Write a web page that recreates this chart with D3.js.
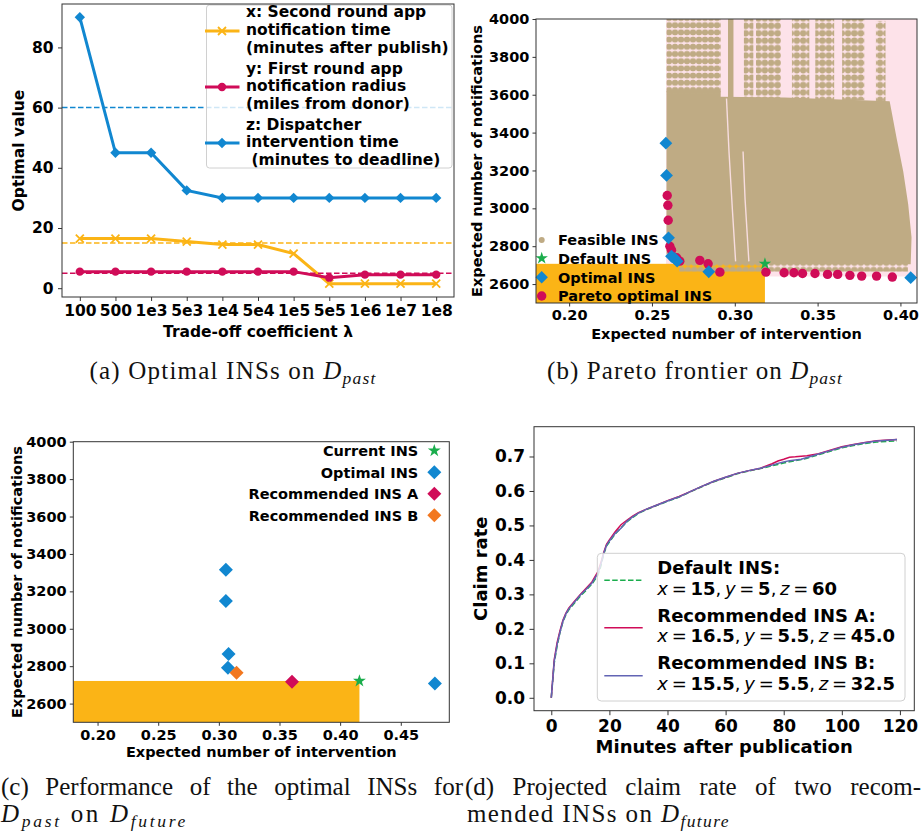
<!DOCTYPE html>
<html>
<head>
<meta charset="utf-8">
<script src="https://cdn.jsdelivr.net/npm/d3@7"></script>
<style>
  body { margin: 0; background: #fff; }
  svg { display: block; }
  text { white-space: pre; }
</style>
</head>
<body>
<div id="chart"></div>
<script>
// (a) optimal INS per trade-off coefficient
const lambdas = ['100', '500', '1e3', '5e3', '1e4', '5e4', '1e5', '5e5', '1e6', '1e7', '1e8'];
const optX = [16.5, 16.5, 16.5, 15.5, 14.5, 14.5, 11.5, 1.5, 1.5, 1.5, 1.5];
const optY = [5.5, 5.5, 5.5, 5.5, 5.5, 5.5, 5.5, 3.5, 4.5, 4.5, 4.5];
const optZ = [90, 45, 45, 32.5, 30, 30, 30, 30, 30, 30, 30];
const defaultXYZ = [15, 5, 60];
const legendA = [
    ['x: Second round app', 'notification time', '(minutes after publish)'],
    ['y: First round app', 'notification radius', '(miles from donor)'],
    ['z: Dispatcher', 'intervention time', ' (minutes to deadline)']
];

// (b) pareto frontier on D_past  [interventions, notifications]
const paretoPast = [[0.2592, 3068], [0.2596, 3016], [0.2598, 2937], [0.2608, 2800], [0.2618, 2779],
    [0.2649, 2739], [0.2668, 2721], [0.2789, 2725], [0.2839, 2707], [0.2910, 2663], [0.3188, 2663],
    [0.3298, 2660], [0.3357, 2660], [0.3409, 2656], [0.3484, 2656], [0.3560, 2651], [0.3621, 2651],
    [0.3695, 2646], [0.3766, 2642], [0.3856, 2642], [0.3951, 2637]];
const optimalPast = [[0.2584, 3344], [0.2588, 3174], [0.2600, 2844], [0.2618, 2747], [0.2638, 2734],
    [0.2652, 2721], [0.2843, 2665], [0.4062, 2634]];
const defaultPast = [0.3182, 2707];
const dominatedX = [0.2585, 0.41];
const dominatedY = [2640, 4000];
// feasible INS cloud, read as regions of the scatter
const feasibleCore = [[0.2588, 3620], [0.2915, 3620], [0.2915, 3590], [0.3300, 3585], [0.3935, 3565],
    [0.3977, 3370], [0.4017, 3195], [0.4047, 3020], [0.4067, 2846], [0.4062, 2705], [0.2665, 2705],
    [0.2620, 2725], [0.2588, 2760]];
const feasibleSolid = [[0.2959, 0.2992, 3575, 4000]];
const feasibleDense = [[0.2588, 0.2915, 3600, 4000]];
const feasibleSparse = [[0.3055, 0.3112, 3570, 4000], [0.3128, 0.3278, 3570, 4000], [0.3345, 0.3450, 3570, 4000],
    [0.3486, 0.3600, 3570, 4000], [0.3648, 0.3782, 3570, 4000], [0.3852, 0.3910, 3560, 3990],
    [0.2665, 0.4045, 2666, 2708]];
const feasibleGaps = [
    [[0.2950, 3580], [0.2965, 3300], [0.2985, 3000], [0.3005, 2720]],
    [[0.3050, 3300], [0.3062, 3050], [0.3085, 2720]]
];
const legendB = ['Feasible INS', 'Default INS', 'Optimal INS', 'Pareto optimal INS'];

// (c) optimal INSs for D_past evaluated on D_future
const optimalFuture = [[0.3058, 3316], [0.3058, 3149], [0.3080, 2865], [0.3075, 2792], [0.4781, 2707]];
const currentFuture = [0.4159, 2721];
const recAFuture = [0.3603, 2717];
const recBFuture = [0.3146, 2765];
const legendC = ['Current INS', 'Optimal INS', 'Recommended INS A', 'Recommended INS B'];

// (d) projected claim rate
const minutes = [0, 1, 2, 3, 4, 5, 6, 8, 10, 12, 14, 16, 17, 18, 19, 20, 22, 24, 26, 28, 30, 33, 36, 40, 44, 48,
    52, 56, 60, 64, 68, 72, 76, 78, 80, 82, 84, 86, 88, 92, 96, 100, 104, 108, 112, 116, 119];
const claimDefault = [0, .10, .15, .19, .22, .24, .255, .275, .295, .312, .33, .355, .38, .415, .44, .452, .475,
    .493, .51, .523, .535, .547, .557, .57, .582, .598, .613, .627, .638, .65, .658, .665, .673, .677, .681, .685,
    .688, .691, .695, .705, .715, .725, .732, .738, .742, .744, .745];
const claimA = [0, .11, .16, .195, .225, .245, .26, .28, .3, .318, .336, .365, .39, .42, .445, .458, .482, .502,
    .515, .527, .537, .548, .558, .572, .584, .599, .614, .628, .64, .651, .659, .666, .679, .687, .692, .698,
    .699, .701, .702, .708, .718, .728, .735, .741, .746, .748, .749];
const claimB = [0, .105, .155, .19, .222, .243, .258, .278, .298, .315, .333, .36, .385, .418, .442, .455, .477,
    .492, .512, .525, .536, .548, .558, .571, .583, .599, .614, .628, .64, .651, .659, .666, .675, .68, .684, .688,
    .69, .692, .697, .707, .717, .727, .734, .74, .745, .747, .749];
const legendD = ['Default INS:', 'Recommended INS A:', 'Recommended INS B:'];
const legendDParams = [['15', '5', '60'], ['16.5', '5.5', '45.0'], ['15.5', '5.5', '32.5']];

const FONT = 'DejaVu Sans, sans-serif';
const SERIF = 'Liberation Serif, serif';
const C = {
    blue: '#1187d0', orange: '#fbb416', crimson: '#d00c58', green: '#1aad4c',
    beige: '#bfab84', pink: '#fde2e9', recB: '#f2771f', slate: '#6264b4', frame: '#333'
};

const svg = d3.select('#chart').append('svg').attr('width', 923).attr('height', 836);
const defs = svg.append('defs');

var pd = defs.append('pattern').attr('id', 'dotsDense').attr('patternUnits', 'userSpaceOnUse')
    .attr('width', 6).attr('height', 7.2);
pd.append('rect').attr('x', 0).attr('y', 0.6).attr('width', 6).attr('height', 6).attr('rx', 2.5).attr('fill', C.beige);
var ps = defs.append('pattern').attr('id', 'dotsSparse').attr('patternUnits', 'userSpaceOnUse')
    .attr('width', 6.4).attr('height', 7.4);
ps.append('circle').attr('cx', 3.2).attr('cy', 3.7).attr('r', 3.2).attr('fill', C.beige);

function diamond(r) { return `M0,${-r}L${r},0L0,${r}L${-r},0Z`; }
function cross(r) { return `M${-r},${-r}L${r},${r}M${-r},${r}L${r},${-r}`; }
function star(size) { return d3.symbol(d3.symbolStar, size)(); }

function styleAxis(g, size) {
    g.select('.domain').remove();
    g.attr('font-family', FONT).attr('font-size', size).attr('font-weight', 'bold');
    g.selectAll('line').attr('stroke', C.frame);
    g.selectAll('text').attr('fill', '#000');
}

function frame(L, R, T, B) {
    svg.append('rect')
        .attr('x', L).attr('y', T).attr('width', R - L).attr('height', B - T)
        .attr('fill', 'none').attr('stroke', C.frame).attr('stroke-width', 1);
}

function label(txt, x, y, size, rotate, anchor) {
    var t = svg.append('text')
        .attr('font-family', FONT).attr('font-weight', 'bold').attr('font-size', size)
        .attr('text-anchor', anchor || 'middle').text(txt);
    if (rotate) t.attr('transform', `translate(${x},${y}) rotate(-90)`);
    else t.attr('x', x).attr('y', y);
    return t;
}

function clip(id, L, R, T, B) {
    defs.append('clipPath').attr('id', id).append('rect')
        .attr('x', L).attr('y', T).attr('width', R - L).attr('height', B - T);
}

function drawMarkers(g, pts, kind, color) {
    pts.forEach(p => {
        if (kind === 'x') {
            g.append('path').attr('transform', `translate(${p[0]},${p[1]})`).attr('d', cross(4))
                .attr('fill', 'none').attr('stroke', color).attr('stroke-width', 1.8);
        } else if (kind === 'o') {
            g.append('circle').attr('cx', p[0]).attr('cy', p[1]).attr('r', 4.2).attr('fill', color);
        } else {
            g.append('path').attr('transform', `translate(${p[0]},${p[1]})`).attr('d', diamond(5.2)).attr('fill', color);
        }
    });
}

// ---------------- (a)
function drawOptimalPanel() {
    const L = 62, R = 454, T = 4, B = 297;
    const all = optX.concat(optY, optZ);
    const pad = (d3.max(all) - d3.min(all)) * 0.05;
    const x = d3.scalePoint().domain(lambdas).range([L, R]).padding(0.5);
    const y = d3.scaleLinear().domain([d3.min(all) - pad, d3.max(all) + pad]).range([B, T]);

    svg.append('g').attr('transform', `translate(0,${B})`)
        .call(d3.axisBottom(x).tickSize(4).tickPadding(4)).call(styleAxis, 15.5);
    svg.append('g').attr('transform', `translate(${L},0)`)
        .call(d3.axisLeft(y).tickValues([0, 20, 40, 60, 80]).tickSize(4).tickPadding(4.5)).call(styleAxis, 15.5);

    const series = [
        { vals: optX, def: defaultXYZ[0], color: C.orange, marker: 'x' },
        { vals: optY, def: defaultXYZ[1], color: C.crimson, marker: 'o' },
        { vals: optZ, def: defaultXYZ[2], color: C.blue, marker: 'D' }
    ];
    const line = d3.line().x((d, i) => x(lambdas[i])).y(d => y(d));

    series.forEach(s => {
        svg.append('path').attr('d', line(s.vals))
            .attr('fill', 'none').attr('stroke', s.color).attr('stroke-width', 3);
        drawMarkers(svg, s.vals.map((d, i) => [x(lambdas[i]), y(d)]), s.marker, s.color);
    });
    series.forEach(s => {
        svg.append('line')
            .attr('x1', L).attr('x2', R).attr('y1', y(s.def)).attr('y2', y(s.def))
            .attr('stroke', s.color).attr('stroke-width', 1.5).attr('stroke-dasharray', '5.5,2.5');
    });

    // legend
    svg.append('rect')
        .attr('x', 206.5).attr('y', 5).attr('width', 245.5).attr('height', 163).attr('rx', 3)
        .attr('fill', 'white').attr('fill-opacity', 0.8).attr('stroke', '#d0d0d0');
    const handleY = [31, 87, 143];
    const baseY = [17.3, 73.6, 129.6];
    series.forEach((s, i) => {
        svg.append('line').attr('x1', 205).attr('x2', 239.5).attr('y1', handleY[i]).attr('y2', handleY[i])
            .attr('stroke', s.color).attr('stroke-width', 3);
        drawMarkers(svg, [[222, handleY[i]]], s.marker, s.color);
        legendA[i].forEach((txt, j) => {
            label(txt, 246, baseY[i] + j * 17.7, 15.5, false, 'start');
        });
    });

    label('Trade-off coefficient \u03bb', (L + R) / 2, 337, 15.5);
    label('Optimal value', 23.5, (T + B) / 2, 15.5, true);
    frame(L, R, T, B);
}

// ---------------- (b)
function drawParetoPanel() {
    const L = 536, R = 917, T = 19, B = 303;
    const x = d3.scaleLinear().domain([0.18, 0.41]).range([L, R]);
    const y = d3.scaleLinear().domain([2500, 4000]).range([B, T]);
    clip('clipB', L, R, T, B);
    const g = svg.append('g').attr('clip-path', 'url(#clipB)');

    g.append('rect')
        .attr('x', x(dominatedX[0])).attr('y', y(dominatedY[1]))
        .attr('width', x(dominatedX[1]) - x(dominatedX[0])).attr('height', y(dominatedY[0]) - y(dominatedY[1]))
        .attr('fill', C.pink);
    g.append('rect')
        .attr('x', x(x.domain()[0])).attr('y', y(defaultPast[1]))
        .attr('width', x(defaultPast[0]) - x(x.domain()[0])).attr('height', y(y.domain()[0]) - y(defaultPast[1]))
        .attr('fill', C.orange);

    g.append('path').attr('d', d3.line().x(d => x(d[0])).y(d => y(d[1]))(feasibleCore) + 'Z').attr('fill', C.beige);
    const rects = (data, fill) => g.selectAll(null).data(data).enter().append('rect')
        .attr('x', d => x(d[0])).attr('width', d => x(d[1]) - x(d[0]))
        .attr('y', d => y(d[3])).attr('height', d => y(d[2]) - y(d[3]))
        .attr('fill', fill);
    rects(feasibleSolid, C.beige);
    rects(feasibleDense, 'url(#dotsDense)');
    rects(feasibleSparse, 'url(#dotsSparse)');
    feasibleGaps.forEach(gap => {
        g.append('path').attr('d', d3.line().x(d => x(d[0])).y(d => y(d[1]))(gap))
            .attr('fill', 'none').attr('stroke', C.pink).attr('stroke-width', 1.4).attr('stroke-opacity', 0.9);
    });

    g.selectAll('.pareto').data(paretoPast).enter().append('circle')
        .attr('cx', d => x(d[0])).attr('cy', d => y(d[1])).attr('r', 4.7).attr('fill', C.crimson);
    g.append('path').attr('transform', `translate(${x(defaultPast[0])},${y(defaultPast[1])})`)
        .attr('d', star(48)).attr('fill', C.green);
    g.selectAll('.opt').data(optimalPast).enter().append('path')
        .attr('transform', d => `translate(${x(d[0])},${y(d[1])})`).attr('d', diamond(6.4)).attr('fill', C.blue);

    svg.append('g').attr('transform', `translate(0,${B})`)
        .call(d3.axisBottom(x).tickValues([0.20, 0.25, 0.30, 0.35, 0.40]).tickFormat(d3.format('.2f'))
            .tickSize(3.5).tickPadding(3.5)).call(styleAxis, 14.5);
    svg.append('g').attr('transform', `translate(${L},0)`)
        .call(d3.axisLeft(y).tickValues(d3.range(2600, 4001, 200)).tickFormat(d3.format('d'))
            .tickSize(3.5).tickPadding(3.2)).call(styleAxis, 14.5);

    // legend
    const ly = [240, 258.3, 277.3, 296];
    svg.append('circle').attr('cx', 541.7).attr('cy', ly[0]).attr('r', 3).attr('fill', C.beige);
    svg.append('path').attr('transform', `translate(541.7,${ly[1]})`).attr('d', star(48)).attr('fill', C.green);
    svg.append('path').attr('transform', `translate(541.7,${ly[2]})`).attr('d', diamond(6.2)).attr('fill', C.blue);
    svg.append('circle').attr('cx', 541.7).attr('cy', ly[3]).attr('r', 4.7).attr('fill', C.crimson);
    legendB.forEach((txt, i) => label(txt, 558, ly[i] + 5.3, 14.5, false, 'start'));

    label('Expected number of intervention', (L + R) / 2, 338.5, 14.5);
    label('Expected number of notifications', 482.3, (T + B) / 2, 14.5, true);
    frame(L, R, T, B);
}

// ---------------- (c)
function drawFuturePanel() {
    const L = 73.3, R = 449.3, T = 441.7, B = 722.3;
    const x = d3.scaleLinear().domain([0.18, 0.49]).range([L, R]);
    const y = d3.scaleLinear().domain([2500, 4000]).range([B, T]);
    clip('clipC', L, R, T, B);
    const g = svg.append('g').attr('clip-path', 'url(#clipC)');

    g.append('rect')
        .attr('x', x(x.domain()[0])).attr('y', y(currentFuture[1]))
        .attr('width', x(currentFuture[0]) - x(x.domain()[0])).attr('height', y(y.domain()[0]) - y(currentFuture[1]))
        .attr('fill', C.orange);
    g.selectAll('.opt').data(optimalFuture).enter().append('path')
        .attr('transform', d => `translate(${x(d[0])},${y(d[1])})`).attr('d', diamond(7)).attr('fill', C.blue);
    g.append('path').attr('transform', `translate(${x(recAFuture[0])},${y(recAFuture[1])})`)
        .attr('d', diamond(7)).attr('fill', C.crimson);
    g.append('path').attr('transform', `translate(${x(recBFuture[0])},${y(recBFuture[1])})`)
        .attr('d', diamond(7)).attr('fill', C.recB);
    g.append('path').attr('transform', `translate(${x(currentFuture[0])},${y(currentFuture[1])})`)
        .attr('d', star(52)).attr('fill', C.green);

    svg.append('g').attr('transform', `translate(0,${B})`)
        .call(d3.axisBottom(x).tickValues([0.20, 0.25, 0.30, 0.35, 0.40, 0.45]).tickFormat(d3.format('.2f'))
            .tickSize(3.5).tickPadding(4)).call(styleAxis, 14.5);
    svg.append('g').attr('transform', `translate(${L},0)`)
        .call(d3.axisLeft(y).tickValues(d3.range(2600, 4001, 200)).tickFormat(d3.format('d'))
            .tickSize(3.5).tickPadding(3.2)).call(styleAxis, 14.5);

    // legend
    const ly = [450.7, 472.3, 493.7, 515.3];
    svg.append('path').attr('transform', `translate(434.3,${ly[0]})`).attr('d', star(52)).attr('fill', C.green);
    svg.append('path').attr('transform', `translate(434.3,${ly[1]})`).attr('d', diamond(7)).attr('fill', C.blue);
    svg.append('path').attr('transform', `translate(434.3,${ly[2]})`).attr('d', diamond(7)).attr('fill', C.crimson);
    svg.append('path').attr('transform', `translate(434.3,${ly[3]})`).attr('d', diamond(7)).attr('fill', C.recB);
    legendC.forEach((txt, i) => label(txt, 418.3, ly[i] + 5.3, 14.5, false, 'end'));

    label('Expected number of intervention', (L + R) / 2, 757.3, 14.5);
    label('Expected number of notifications', 22.3, (T + B) / 2, 14.5, true);
    frame(L, R, T, B);
}

// ---------------- (d)
function drawClaimPanel() {
    const L = 534, R = 914.3, T = 426.7, B = 710.7;
    const xPad = (d3.max(minutes) - d3.min(minutes)) * 0.05;
    const allC = claimDefault.concat(claimA, claimB);
    const yPad = (d3.max(allC) - d3.min(allC)) * 0.05;
    const x = d3.scaleLinear().domain([d3.min(minutes) - xPad, d3.max(minutes) + xPad]).range([L, R]);
    const y = d3.scaleLinear().domain([d3.min(allC) - yPad, d3.max(allC) + yPad]).range([B, T]);
    clip('clipD', L, R, T, B);
    const g = svg.append('g').attr('clip-path', 'url(#clipD)');

    const line = d3.line().x((d, i) => x(minutes[i])).y(d => y(d));
    const series = [
        { vals: claimDefault, color: C.green, dash: '5.5,2.4' },
        { vals: claimA, color: C.crimson, dash: null },
        { vals: claimB, color: C.slate, dash: null }
    ];
    series.forEach(s => {
        g.append('path').attr('d', line(s.vals)).attr('fill', 'none')
            .attr('stroke', s.color).attr('stroke-width', 1.5).attr('stroke-dasharray', s.dash);
    });

    svg.append('g').attr('transform', `translate(0,${B})`)
        .call(d3.axisBottom(x).tickValues(d3.range(0, 121, 20)).tickSize(4.5).tickPadding(4.5)).call(styleAxis, 17);
    svg.append('g').attr('transform', `translate(${L},0)`)
        .call(d3.axisLeft(y).tickValues(d3.range(0, 0.71, 0.1)).tickFormat(d3.format('.1f'))
            .tickSize(4.5).tickPadding(4.5)).call(styleAxis, 17);

    // legend
    svg.append('rect')
        .attr('x', 597.3).attr('y', 553.3).attr('width', 307.7).attr('height', 147.7).attr('rx', 4)
        .attr('fill', 'white').attr('fill-opacity', 0.8).attr('stroke', '#d0d0d0');
    const handleY = [580.3, 627.7, 675.7];
    const baseY = [574.3, 621.6, 669.3];
    series.forEach((s, i) => {
        svg.append('line').attr('x1', 604.3).attr('x2', 642.7).attr('y1', handleY[i]).attr('y2', handleY[i])
            .attr('stroke', s.color).attr('stroke-width', 1.5).attr('stroke-dasharray', s.dash);
        label(legendD[i], 657.3, baseY[i], 18, false, 'start');
        mathLine(legendDParams[i], 657.3, baseY[i] + 20.7);
    });

    label('Minutes after publication', (L + R) / 2, 753.3, 18);
    label('Claim rate', 486.7, (T + B) / 2, 18, true);
    frame(L, R, T, B);
}

function mathLine(vals, x, y) {
    const t = svg.append('text').attr('x', x).attr('y', y)
        .attr('font-family', FONT).attr('font-size', 18);
    const names = ['x', 'y', 'z'];
    names.forEach((n, i) => {
        t.append('tspan').attr('dx', i === 0 ? 0 : 3.7).attr('font-style', 'italic').text(n);
        t.append('tspan').attr('dx', 3.7).text('=');
        t.append('tspan').attr('dx', 3.7).attr('font-weight', 'bold').text(vals[i]);
        if (i < 2) t.append('tspan').text(',');
    });
}

// ---------------- captions
function caption(parts, x, y, anchor, width, justify) {
    const t = svg.append('text').attr('x', x).attr('y', y)
        .attr('font-family', SERIF).attr('font-size', 25).attr('text-anchor', anchor).attr('fill', '#111');
    var shifted = false;
    parts.forEach(p => {
        const s = t.append('tspan').text(p.t);
        if (p.i) s.attr('font-style', 'italic');
        if (p.sub) { s.attr('font-size', 17.5).attr('dy', 5); shifted = true; }
        else if (shifted) { s.attr('dy', -5); shifted = false; }
    });
    const natural = t.node().getComputedTextLength();
    const txt = parts.map(p => p.t).join('');
    if (justify) {
        const n = (txt.match(/ /g) || []).length;
        t.attr('word-spacing', (width - natural) / n);
    } else {
        t.attr('letter-spacing', (width - natural) / txt.length);
    }
}

drawOptimalPanel();
drawParetoPanel();
drawFuturePanel();
drawClaimPanel();

caption([{ t: '(a) Optimal INSs on ' }, { t: 'D', i: true }, { t: 'past', i: true, sub: true }], 233, 379, 'middle', 287);
caption([{ t: '(b) Pareto frontier on ' }, { t: 'D', i: true }, { t: 'past', i: true, sub: true }], 695, 379, 'middle', 296);
caption([{ t: '(c) Performance of the optimal INSs for' }], 1, 795, 'start', 462, true);
caption([{ t: '(d) Projected claim rate of two recom-' }], 465, 795, 'start', 456, true);
caption([{ t: 'D', i: true }, { t: 'past', i: true, sub: true }, { t: ' on ' }, { t: 'D', i: true },
    { t: 'future', i: true, sub: true }], 1, 822, 'start', 187);
caption([{ t: 'mended INSs on ' }, { t: 'D', i: true }, { t: 'future', i: true, sub: true }], 467, 822, 'start', 263);
</script>
</body>
</html>
